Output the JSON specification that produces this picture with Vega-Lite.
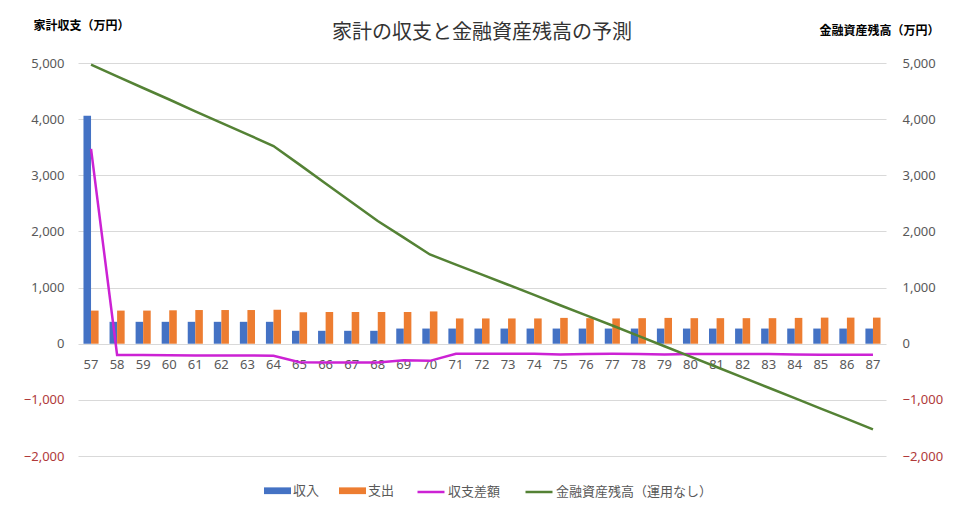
{
  "$schema": "https://vega.github.io/schema/vega-lite/v6.json",
  "width": 808,
  "height": 393,
  "autosize": {"type": "none"},
  "padding": {"left": 78, "top": 63, "right": 74, "bottom": 64},
  "background": "white",
  "title": {
    "text": "家計の収支と金融資産残高の予測",
    "anchor": "middle",
    "font": "Noto Sans CJK JP",
    "fontSize": 20,
    "fontWeight": "normal",
    "color": "#333333",
    "offset": -24
  },
  "config": {
    "view": {"stroke": null},
    "font": "Noto Sans",
    "axis": {"labelFont": "Noto Sans", "labelFontSize": 13, "labelColor": "#595959"}
  },
  "data": {
    "values": [
      {"age": 57, "income": 4060, "expense": 590, "diff": 3470, "assets": 4970},
      {"age": 58, "income": 390, "expense": 590, "diff": -200, "assets": 4760},
      {"age": 59, "income": 390, "expense": 590, "diff": -200, "assets": 4555},
      {"age": 60, "income": 390, "expense": 595, "diff": -205, "assets": 4350},
      {"age": 61, "income": 390, "expense": 600, "diff": -210, "assets": 4140},
      {"age": 62, "income": 390, "expense": 600, "diff": -210, "assets": 3935},
      {"age": 63, "income": 390, "expense": 600, "diff": -210, "assets": 3730},
      {"age": 64, "income": 390, "expense": 605, "diff": -215, "assets": 3520},
      {"age": 65, "income": 230, "expense": 560, "diff": -330, "assets": 3190},
      {"age": 66, "income": 230, "expense": 565, "diff": -335, "assets": 2855},
      {"age": 67, "income": 230, "expense": 565, "diff": -335, "assets": 2520},
      {"age": 68, "income": 230, "expense": 565, "diff": -335, "assets": 2185},
      {"age": 69, "income": 270, "expense": 565, "diff": -295, "assets": 1890},
      {"age": 70, "income": 270, "expense": 575, "diff": -305, "assets": 1590},
      {"age": 71, "income": 270, "expense": 450, "diff": -180, "assets": 1410},
      {"age": 72, "income": 270, "expense": 450, "diff": -180, "assets": 1230},
      {"age": 73, "income": 270, "expense": 450, "diff": -180, "assets": 1050},
      {"age": 74, "income": 270, "expense": 450, "diff": -180, "assets": 870},
      {"age": 75, "income": 270, "expense": 460, "diff": -190, "assets": 685},
      {"age": 76, "income": 270, "expense": 455, "diff": -185, "assets": 505},
      {"age": 77, "income": 270, "expense": 450, "diff": -180, "assets": 325},
      {"age": 78, "income": 270, "expense": 455, "diff": -185, "assets": 140},
      {"age": 79, "income": 270, "expense": 460, "diff": -190, "assets": -45},
      {"age": 80, "income": 270, "expense": 455, "diff": -185, "assets": -230},
      {"age": 81, "income": 270, "expense": 455, "diff": -185, "assets": -415},
      {"age": 82, "income": 270, "expense": 455, "diff": -185, "assets": -600},
      {"age": 83, "income": 270, "expense": 455, "diff": -185, "assets": -785},
      {"age": 84, "income": 270, "expense": 460, "diff": -190, "assets": -970},
      {"age": 85, "income": 270, "expense": 465, "diff": -195, "assets": -1155},
      {"age": 86, "income": 270, "expense": 465, "diff": -195, "assets": -1340},
      {"age": 87, "income": 270, "expense": 465, "diff": -195, "assets": -1525}
    ]
  },
  "encoding": {
    "x": {
      "field": "age",
      "type": "ordinal",
      "scale": {"paddingInner": 0.42, "paddingOuter": 0.21},
      "axis": {
        "title": null,
        "labelAngle": 0,
        "offset": -112,
        "domain": false,
        "ticks": false,
        "labelPadding": 14,
        "labelFontSize": 13,
        "labelColor": "#595959"
      }
    }
  },
  "layer": [
    {
      "transform": [{"fold": ["income", "expense"], "as": ["series", "value"]}],
      "mark": {"type": "bar"},
      "encoding": {
        "xOffset": {"field": "series", "type": "nominal", "sort": ["income", "expense"], "scale": {"domain": ["income", "expense"]}},
        "y": {
          "field": "value",
          "type": "quantitative",
          "scale": {"domain": [-2000, 5000], "nice": false, "zero": false},
          "axis": {
            "orient": "left",
            "title": "家計収支（万円）",
            "titleAngle": 0,
            "titleAlign": "left",
            "titleBaseline": "middle",
            "titleX": -45,
            "titleY": -38,
            "titleFont": "Noto Sans CJK JP",
            "titleFontSize": 12,
            "titleFontWeight": "bold",
            "titleColor": "#000000",
            "values": [-2000, -1000, 0, 1000, 2000, 3000, 4000, 5000],
            "format": ",.0f",
            "labelColor": {"condition": {"test": "datum.value < 0", "value": "#B03A3A"}, "value": "#595959"},
            "labelPadding": 14,
            "domain": false,
            "ticks": false,
            "grid": true,
            "gridColor": "#D9D9D9",
            "gridWidth": 1
          }
        },
        "color": {
          "field": "series",
          "type": "nominal",
          "scale": {"domain": ["income", "expense"], "range": ["#4472C4", "#ED7D31"]},
          "legend": {
            "title": null,
            "orient": "none",
            "legendX": 186,
            "legendY": 414,
            "direction": "horizontal",
            "symbolType": "M-1,-0.25L1,-0.25L1,0.25L-1,0.25Z",
            "symbolSize": 729,
            "symbolStrokeWidth": 0,
            "symbolOpacity": 1,
            "labelExpr": "datum.label == 'income' ? '収入' : '支出'",
            "labelFont": "Noto Sans CJK JP",
            "labelFontSize": 13,
            "labelColor": "#595959",
            "labelOffset": 2,
            "columnPadding": 19
          }
        }
      }
    },
    {
      "transform": [{"fold": ["diff", "assets"], "as": ["series", "value"]}],
      "mark": {"type": "line", "strokeWidth": 2.5},
      "encoding": {
        "y": {
          "field": "value",
          "type": "quantitative",
          "scale": {"domain": [-2000, 5000], "nice": false, "zero": false},
          "axis": {
            "orient": "right",
            "title": "金融資産残高（万円）",
            "titleAngle": 0,
            "titleAlign": "right",
            "titleBaseline": "middle",
            "titleX": 53,
            "titleY": -33,
            "titleFont": "Noto Sans CJK JP",
            "titleFontSize": 12,
            "titleFontWeight": "bold",
            "titleColor": "#000000",
            "values": [-2000, -1000, 0, 1000, 2000, 3000, 4000, 5000],
            "format": ",.0f",
            "labelColor": {"condition": {"test": "datum.value < 0", "value": "#B03A3A"}, "value": "#595959"},
            "labelPadding": 16,
            "domain": false,
            "ticks": false,
            "grid": false
          }
        },
        "color": {
          "field": "series",
          "type": "nominal",
          "scale": {"domain": ["diff", "assets"], "range": ["#CC22D4", "#548235"]},
          "legend": {
            "title": null,
            "orient": "none",
            "legendX": 338,
            "legendY": 414,
            "direction": "horizontal",
            "symbolType": "stroke",
            "symbolSize": 729,
            "symbolStrokeWidth": 2.5,
            "labelExpr": "datum.label == 'diff' ? '収支差額' : '金融資産残高（運用なし）'",
            "labelFont": "Noto Sans CJK JP",
            "labelFontSize": 13,
            "labelColor": "#595959",
            "labelOffset": 2,
            "columnPadding": 19
          }
        }
      }
    }
  ],
  "resolve": {"scale": {"y": "independent", "color": "independent"}}
}
